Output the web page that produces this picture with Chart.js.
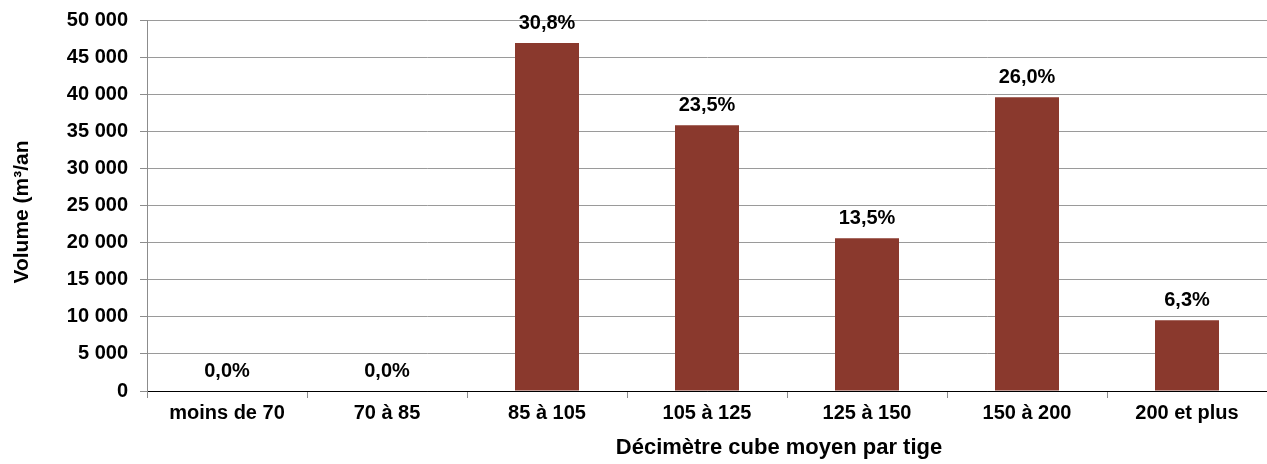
<!DOCTYPE html>
<html>
<head>
<meta charset="utf-8">
<script src="https://cdn.jsdelivr.net/npm/chart.js@4"></script>
<style>
  html, body { margin: 0; padding: 0; background: #fff; }
  #wrap { width: 1267px; height: 464px; position: relative; overflow: hidden; }
  #inner { position: absolute; left: 0; top: -4px; width: 1267px; height: 468px; }
</style>
</head>
<body>
<div id="wrap"><div id="inner"><canvas id="myBar"></canvas></div></div>
<script>
// données
const categories = ['moins de 70', '70 à 85', '85 à 105', '105 à 125', '125 à 150', '150 à 200', '200 et plus'];
const volumes = [0, 0, 46900, 35800, 20600, 39600, 9550];
const percentLabels = ['0,0%', '0,0%', '30,8%', '23,5%', '13,5%', '26,0%', '6,3%'];
const yTickStep = 5000;
const yMax = 50000;
const xTitle = 'Décimètre cube moyen par tige';
const yTitle = 'Volume (m³/an';

const fontFamily = '"Liberation Sans", Arial, sans-serif';

// étiquettes % au-dessus des barres + titres des axes (placés comme sur l'original)
const labelsPlugin = {
  id: 'percentLabels',
  afterDatasetsDraw(chart) {
    const ctx = chart.ctx;
    const meta = chart.getDatasetMeta(0);
    ctx.save();
    ctx.font = 'bold 20px ' + fontFamily;
    ctx.fillStyle = '#000';
    ctx.textAlign = 'center';
    ctx.textBaseline = 'middle';
    meta.data.forEach((bar, i) => {
      ctx.fillText(percentLabels[i], bar.x, bar.y - 20);
    });
    ctx.restore();
  },
  afterDraw(chart) {
    const ctx = chart.ctx;
    ctx.save();
    ctx.fillStyle = '#000';
    ctx.textAlign = 'center';
    ctx.textBaseline = 'middle';
    ctx.font = 'bold 22px ' + fontFamily;
    ctx.fillText(xTitle, 779, 452);
    ctx.translate(22, 216);
    ctx.rotate(-Math.PI / 2);
    ctx.font = 'bold 21px ' + fontFamily;
    ctx.fillText(yTitle, 0, 0);
    ctx.restore();
  }
};

const formatThousands = (v) => String(v).replace(/\B(?=(\d{3})+(?!\d))/g, ' ');

new Chart(document.querySelector('#myBar'), {
  type: 'bar',
  data: {
    labels: categories,
    datasets: [{
      data: volumes,
      backgroundColor: '#8a392d',
      borderWidth: 0,
      barPercentage: 0.4,
      categoryPercentage: 1.0,
    }]
  },
  options: {
    responsive: true,
    maintainAspectRatio: false,
    animation: false,
    layout: { padding: 0 },
    plugins: {
      legend: { display: false },
      tooltip: { enabled: false },
    },
    scales: {
      x: {
        afterFit: (s) => { s.height = 73; },
        grid: {
          drawOnChartArea: false,
          drawTicks: true,
          tickLength: 7,
          color: '#8c8c8c',
        },
        border: { color: '#000', width: 1 },
        ticks: {
          color: '#000',
          padding: 3,
          maxRotation: 0,
          font: { family: fontFamily, size: 20, weight: 'bold' },
        },
      },
      y: {
        min: 0,
        max: yMax,
        afterFit: (s) => { s.width = 147; },
        grid: {
          color: (c) => (c.tick && c.tick.value === 0 ? '#000' : '#9a9a9a'),
          tickColor: '#8c8c8c',
          tickLength: 7,
        },
        border: { color: '#8c8c8c', width: 1 },
        ticks: {
          stepSize: yTickStep,
          color: '#000',
          padding: 12,
          font: { family: fontFamily, size: 20, weight: 'bold' },
          callback: (v) => formatThousands(v),
        },
      },
    },
  },
  plugins: [labelsPlugin],
});
</script>
</body>
</html>
